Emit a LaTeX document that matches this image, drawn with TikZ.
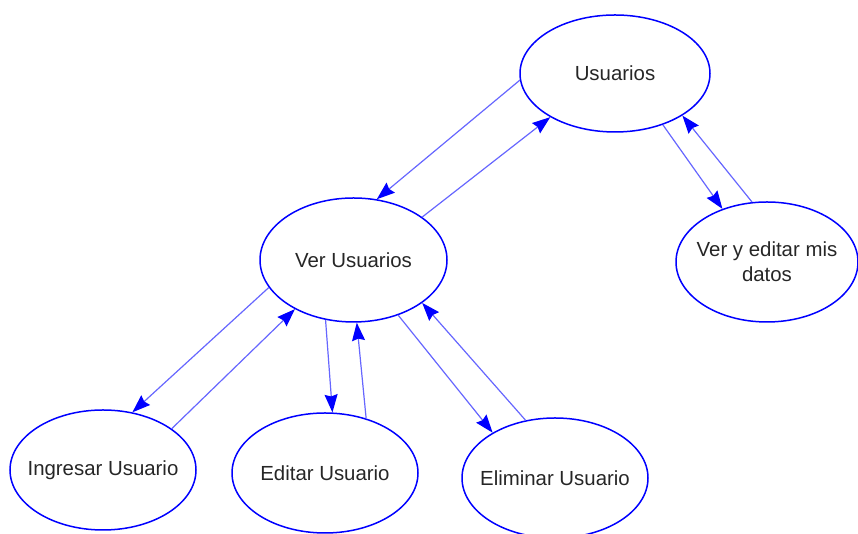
\documentclass[tikz,border=0pt]{standalone}
\usepackage{fontspec}
\setmainfont{Liberation Sans}
\usetikzlibrary{shapes.geometric,arrows.meta}

\begin{document}
\begin{tikzpicture}[x=0.5pt,y=0.5pt,
  caso/.style={ellipse,draw=blue,line width=0.75pt,inner sep=0pt,
    label={[font=\fontsize{10.2}{12.5}\selectfont,text=black!85,align=center]center:#1}},
  flecha/.style={draw=blue!60,line width=0.6pt,
    -{Stealth[length=9pt,width=6.5pt,inset=1pt,color=blue,fill=blue]}}]
\useasboundingbox (0,0) rectangle (858,534);
% Drawing use cases
\node[caso=Usuarios,minimum width=95pt,minimum height=58.5pt] (usuarios) at (615,460.5) {};
\node[caso=Ver Usuarios,minimum width=93.5pt,minimum height=62pt] (ver) at (353.5,274) {};
\node[caso={Ver y editar mis\\datos},minimum width=91pt,minimum height=60pt] (datos) at (767,272) {};
\node[caso=Ingresar Usuario,minimum width=93pt,minimum height=60pt] (ingresar) at (103,64) {};
\node[caso=Editar Usuario,minimum width=93pt,minimum height=60pt] (editar) at (325,61) {};
\node[caso=Eliminar Usuario,minimum width=93pt,minimum height=60pt] (eliminar) at (555,56) {};
% Done with use cases; drawing links
% Usuarios <-> Ver Usuarios
\draw[flecha] (usuarios.184) -- (ver.69);
\draw[flecha] (ver.32) -- (usuarios.214);
% Usuarios <-> Ver y editar mis datos
\draw[flecha] (usuarios.313) -- (datos.130);
\draw[flecha] (datos.104) -- (usuarios.328);
% Ver Usuarios <-> Ingresar Usuario
\draw[flecha] (ver.198) -- (ingresar.63);
\draw[flecha] (ingresar.31) -- (ver.220);
% Ver Usuarios <-> Editar Usuario
\draw[flecha] (ver.245) -- (editar.83);
\draw[flecha] (editar.53) -- (ver.273);
% Ver Usuarios <-> Eliminar Usuario
\draw[flecha] (ver.309) -- (eliminar.144);
\draw[flecha] (eliminar.117) -- (ver.328);
% Done with links
\end{tikzpicture}
\end{document}
